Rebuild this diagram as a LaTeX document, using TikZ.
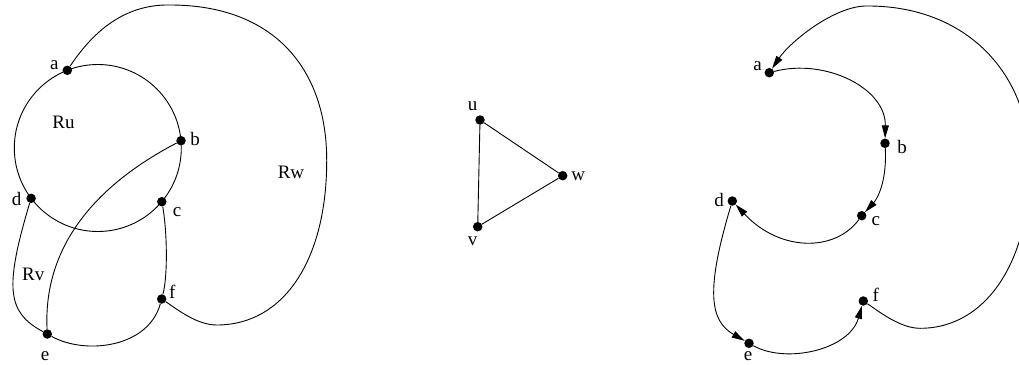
\documentclass[tikz,border=0pt]{standalone}
\usepackage{fontspec}
\setmainfont{Liberation Serif}
\usetikzlibrary{arrows.meta}
\begin{document}
\begin{tikzpicture}[x=1pt,y=-1pt,
  dot/.style={circle,fill=black,inner sep=0pt,minimum size=9.5pt},
  lbl/.style={anchor=base,inner sep=0pt,font=\fontsize{19}{21}\selectfont},
  edge/.style={line width=0.9pt},
  arr/.style={edge,-{Triangle[length=13pt,width=7pt]}}]
\useasboundingbox (0,0) rectangle (1019,364);
\clip (0,0) rectangle (1019,364);
% ---------- left panel ----------
\node[dot] (a) at (67.3,70.3) {};
\node[dot] (b) at (181,140.7) {};
\node[dot] (c) at (161.8,201.7) {};
\node[dot] (d) at (31.1,198.3) {};
\node[dot] (e) at (47.3,334) {};
\node[dot] (f) at (161.7,299) {};
\draw[edge] (97.8,148) circle[radius=83.5pt];
\draw[edge] (b) .. controls (129,168) and (42,224) .. (e);
\draw[edge] (d) .. controls (4,289) and (7.4,312.4) .. (e);
\draw[edge] (e) .. controls (85,355) and (148,348) .. (f);
\draw[edge] (c) .. controls (167,230) and (168,275) .. (f);
\draw[edge] (f) .. controls (176.7,309) and (196.7,325) .. (216.7,325)
  .. controls (285,325) and (327,258) .. (326.7,160)
  .. controls (326.7,70) and (275,5) .. (170,5)
  .. controls (120,4) and (89.3,37.5) .. (a);
\node[lbl] (la) at (54.3,69) {a};
\node[lbl] (lb) at (195,145) {b};
\node[lbl] (lc) at (177.2,216) {c};
\node[lbl] (ld) at (16.7,205) {d};
\node[lbl] (le) at (45,360) {e};
\node[lbl] (lf) at (172.3,298.3) {f};
\node[lbl] (lRu) at (63.5,128.3) {Ru};
\node[lbl] (lRv) at (33.3,280) {Rv};
\node[lbl] (lRw) at (291,178.3) {Rw};
% ---------- middle triangle ----------
\node[dot] (u) at (480,120) {};
\node[dot] (w) at (562.7,175.7) {};
\node[dot] (v) at (477.7,226.7) {};
\draw[edge] (u) -- (w);
\draw[edge] (w) -- (v);
\draw[edge] (v) -- (u);
\node[lbl] (lu) at (472.5,110.7) {u};
\node[lbl] (lw) at (578.3,180.7) {w};
\node[lbl] (lv) at (472.5,245) {v};
% ---------- right panel ----------
\node[dot] (a2) at (769.3,72.7) {};
\node[dot] (b2) at (885,143.3) {};
\node[dot] (c2) at (861.7,215.7) {};
\node[dot] (d2) at (732.3,201) {};
\node[dot] (e2) at (749,343.3) {};
\node[dot] (f2) at (863.3,301) {};
\draw[arr] (a2) .. controls (825,58) and (886,88) .. (b2);
\draw[arr] (b2) .. controls (887,180) and (878,198) .. (c2);
\draw[arr] (c2) .. controls (835,252) and (780,252) .. (d2);
\draw[arr] (d2) .. controls (705.3,291) and (709.9,320.8) .. (e2);
\draw[arr] (e2) .. controls (786,364) and (849.3,350) .. (f2);
\draw[arr] (f2) .. controls (878.3,311) and (900,328.3) .. (920,328.3)
  .. controls (988,328.3) and (1030.5,258) .. (1030,165)
  .. controls (1030,72) and (965,6) .. (868,6)
  .. controls (835,5) and (790,42) .. (a2);
\node[lbl] (ra) at (757.5,70.7) {a};
\node[lbl] (rb) at (902,153.3) {b};
\node[lbl] (rc) at (875.8,225) {c};
\node[lbl] (rd) at (719,206) {d};
\node[lbl] (re) at (748,360) {e};
\node[lbl] (rf) at (875.8,301.7) {f};
\end{tikzpicture}
\end{document}
